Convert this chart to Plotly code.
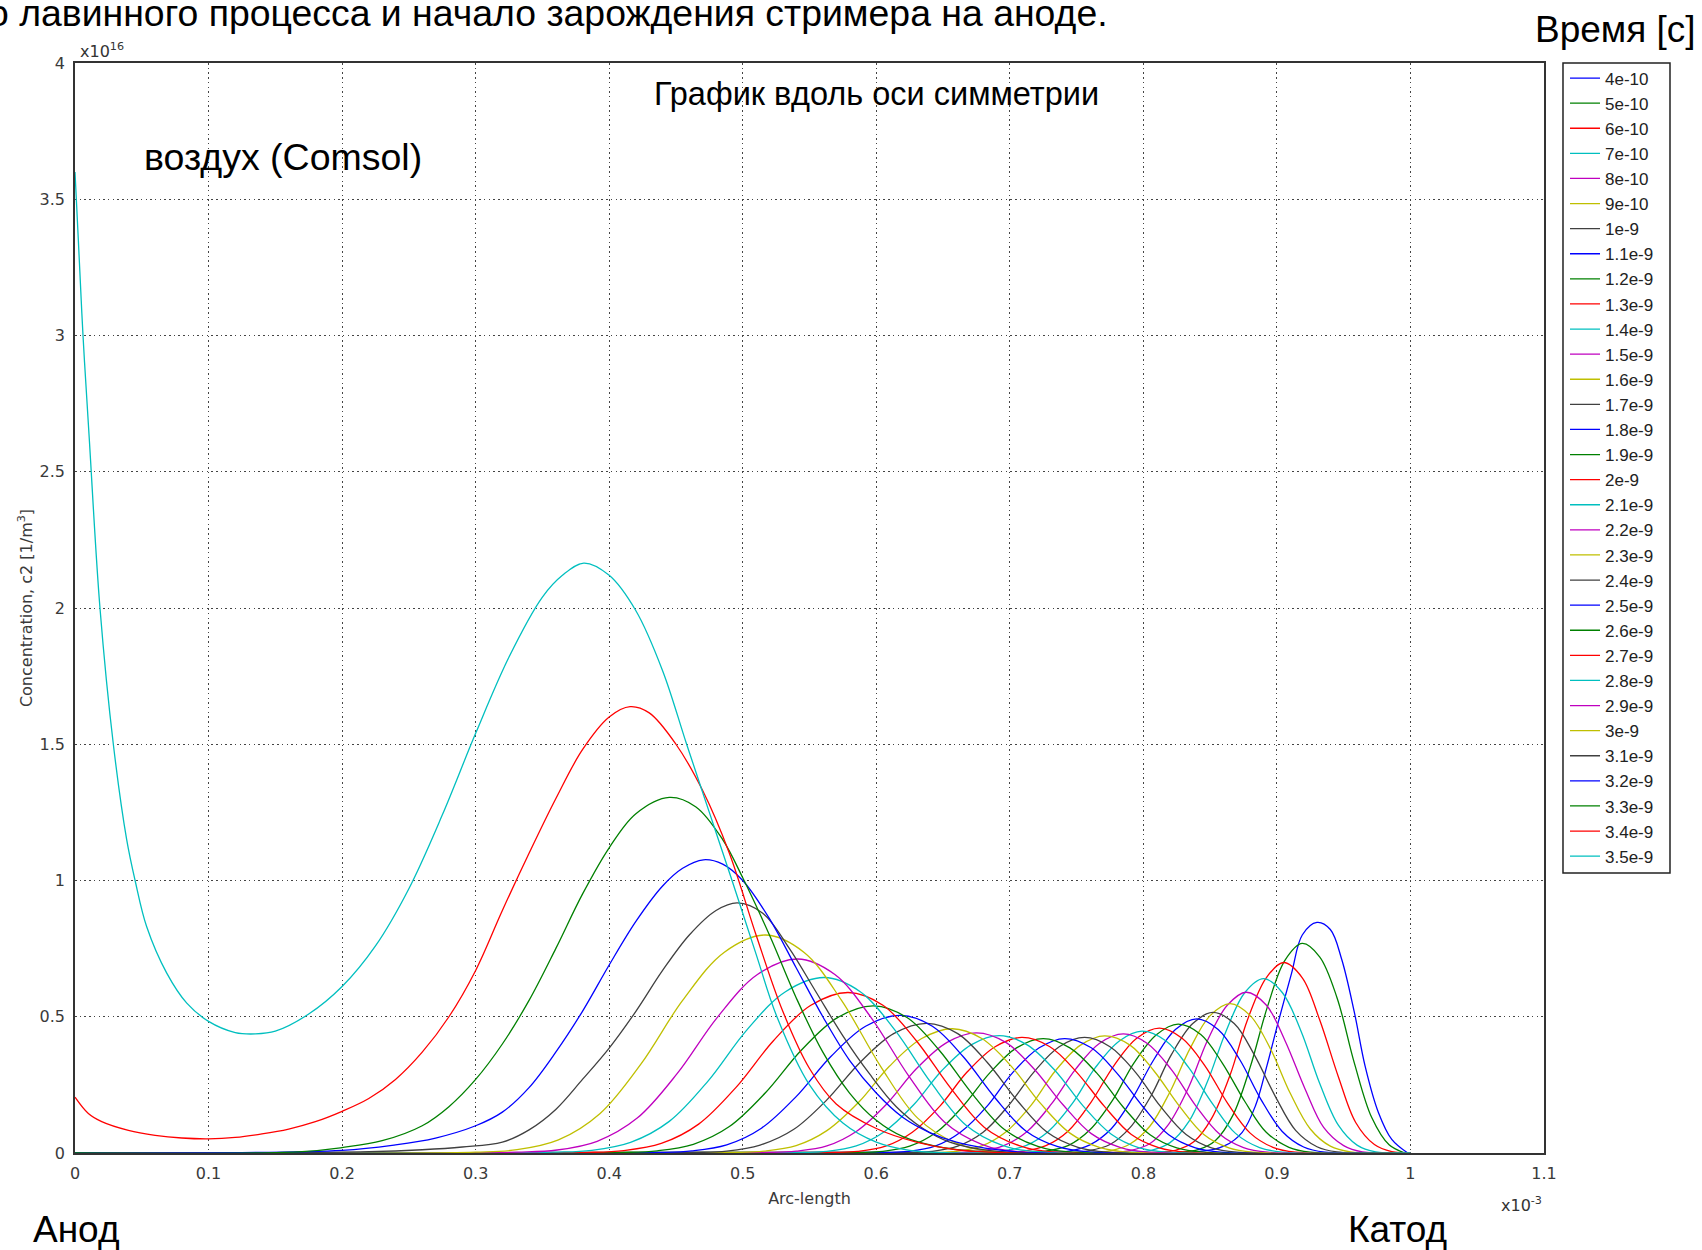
import plotly.graph_objects as go

# time labels (legend) and curve colours (COMSOL default cycle)
TIME_LABELS = ["4e-10", "5e-10", "6e-10", "7e-10", "8e-10", "9e-10", "1e-9",
               "1.1e-9", "1.2e-9", "1.3e-9", "1.4e-9", "1.5e-9", "1.6e-9", "1.7e-9",
               "1.8e-9", "1.9e-9", "2e-9", "2.1e-9", "2.2e-9", "2.3e-9", "2.4e-9",
               "2.5e-9", "2.6e-9", "2.7e-9", "2.8e-9", "2.9e-9", "3e-9", "3.1e-9",
               "3.2e-9", "3.3e-9", "3.4e-9", "3.5e-9"]
COLOR_CYCLE = ["#0000ff", "#008000", "#ff0000", "#00bfbf", "#bf00bf", "#bfbf00", "#404040"]

# arc-length in units of 1e-3 m, concentration in units of 1e16 1/m^3
CURVE_X = [
    [0, 0.84, 0.861, 0.874, 0.884, 0.8925, 0.901, 0.911, 0.919, 0.930, 0.94, 0.9485, 0.958, 0.966, 0.976, 0.986, 0.998],
    [0, 0.828, 0.841, 0.854, 0.867, 0.880, 0.893, 0.906, 0.919, 0.932, 0.945, 0.958, 0.971, 0.984, 0.996],
    [0, 0.811, 0.824, 0.838, 0.851, 0.865, 0.878, 0.892, 0.905, 0.919, 0.932, 0.946, 0.959, 0.973, 0.986, 1.0],
    [0, 0.792, 0.806, 0.820, 0.834, 0.848, 0.862, 0.876, 0.890, 0.904, 0.918, 0.932, 0.946, 0.960, 0.974, 1.0],
    [0, 0.776, 0.790, 0.805, 0.819, 0.834, 0.848, 0.863, 0.877, 0.892, 0.906, 0.921, 0.935, 0.950, 0.964, 1.0],
    [0, 0.760, 0.775, 0.790, 0.805, 0.820, 0.835, 0.850, 0.865, 0.880, 0.895, 0.910, 0.925, 0.940, 0.955, 1.0],
    [0, 0.744, 0.759, 0.775, 0.790, 0.806, 0.821, 0.837, 0.852, 0.868, 0.883, 0.899, 0.914, 0.930, 0.945, 1.0],
    [0, 0.728, 0.744, 0.760, 0.776, 0.792, 0.808, 0.824, 0.840, 0.856, 0.872, 0.888, 0.904, 0.920, 0.936, 1.0],
    [0, 0.711, 0.727, 0.744, 0.760, 0.777, 0.793, 0.810, 0.826, 0.843, 0.859, 0.876, 0.892, 0.909, 0.925, 1.0],
    [0, 0.693, 0.710, 0.727, 0.744, 0.761, 0.778, 0.795, 0.812, 0.829, 0.846, 0.863, 0.880, 0.897, 0.914, 1.0],
    [0, 0.677, 0.694, 0.712, 0.729, 0.747, 0.764, 0.782, 0.799, 0.817, 0.834, 0.852, 0.869, 0.887, 0.904, 1.0],
    [0, 0.659, 0.677, 0.695, 0.713, 0.731, 0.749, 0.767, 0.785, 0.803, 0.821, 0.839, 0.857, 0.875, 0.893, 1.0],
    [0, 0.642, 0.660, 0.679, 0.697, 0.716, 0.734, 0.753, 0.771, 0.790, 0.808, 0.827, 0.845, 0.864, 0.882, 1.0],
    [0, 0.623, 0.642, 0.661, 0.680, 0.699, 0.718, 0.737, 0.756, 0.775, 0.794, 0.813, 0.832, 0.851, 0.870, 1.0],
    [0, 0.605, 0.624, 0.644, 0.663, 0.683, 0.702, 0.722, 0.741, 0.761, 0.780, 0.800, 0.819, 0.839, 0.858, 1.0],
    [0, 0.585, 0.605, 0.625, 0.645, 0.665, 0.685, 0.705, 0.725, 0.745, 0.765, 0.785, 0.805, 0.825, 0.845, 1.0],
    [0, 0.566, 0.586, 0.607, 0.627, 0.648, 0.668, 0.689, 0.709, 0.730, 0.750, 0.771, 0.791, 0.812, 0.832, 1.0],
    [0, 0.542, 0.563, 0.585, 0.606, 0.628, 0.649, 0.671, 0.692, 0.713, 0.734, 0.755, 0.776, 0.797, 0.818, 1.0],
    [0, 0.518, 0.540, 0.563, 0.585, 0.608, 0.630, 0.653, 0.675, 0.697, 0.718, 0.740, 0.761, 0.783, 0.804, 1.0],
    [0, 0.493, 0.516, 0.540, 0.563, 0.587, 0.610, 0.634, 0.657, 0.679, 0.701, 0.723, 0.745, 0.767, 0.789, 1.0],
    [0, 0.463, 0.488, 0.513, 0.538, 0.563, 0.588, 0.613, 0.638, 0.661, 0.683, 0.706, 0.728, 0.751, 0.773, 1.0],
    [0, 0.436, 0.462, 0.488, 0.514, 0.540, 0.566, 0.592, 0.618, 0.642, 0.665, 0.689, 0.712, 0.736, 0.759, 1.0],
    [0, 0.409, 0.436, 0.463, 0.490, 0.517, 0.544, 0.571, 0.598, 0.623, 0.647, 0.672, 0.696, 0.721, 0.745, 1.0],
    [0, 0.383, 0.411, 0.439, 0.467, 0.495, 0.523, 0.551, 0.579, 0.605, 0.630, 0.656, 0.681, 0.707, 0.732, 1.0],
    [0, 0.358, 0.387, 0.416, 0.445, 0.474, 0.503, 0.532, 0.561, 0.588, 0.614, 0.641, 0.667, 0.694, 0.720, 1.0],
    [0, 0.331, 0.361, 0.391, 0.421, 0.451, 0.481, 0.511, 0.541, 0.569, 0.596, 0.624, 0.651, 0.679, 0.706, 1.0],
    [0, 0.300, 0.331, 0.362, 0.393, 0.424, 0.455, 0.486, 0.517, 0.546, 0.574, 0.603, 0.631, 0.660, 0.688, 1.0],
    [0, 0.22, 0.26, 0.29, 0.32, 0.34, 0.36, 0.38, 0.40, 0.42, 0.44, 0.46, 0.48, 0.496, 0.515, 0.535, 0.555,
     0.575, 0.595, 0.615, 0.635, 0.655, 0.68, 0.71, 1.0],
    [0, 0.20, 0.24, 0.27, 0.30, 0.32, 0.34, 0.36, 0.38, 0.40, 0.42, 0.44, 0.455, 0.4706, 0.485, 0.50, 0.52,
     0.54, 0.56, 0.58, 0.60, 0.62, 0.64, 0.66, 0.69, 0.72, 1.0],
    [0, 0.17, 0.20, 0.23, 0.26, 0.28, 0.30, 0.32, 0.34, 0.36, 0.38, 0.40, 0.42, 0.445, 0.465, 0.485, 0.50,
     0.52, 0.54, 0.56, 0.58, 0.60, 0.62, 0.65, 0.70, 1.0],
    [0, 0.01, 0.02, 0.04, 0.06, 0.08, 0.10, 0.12, 0.14, 0.16, 0.18, 0.20, 0.22, 0.24, 0.26, 0.28, 0.30, 0.32,
     0.34, 0.36, 0.38, 0.40, 0.4157, 0.43, 0.45, 0.47, 0.49, 0.51, 0.53, 0.55, 0.57, 0.60, 0.63, 0.66, 0.70, 1.0],
    [0, 0.0025, 0.006, 0.0107, 0.0187, 0.0287, 0.0387, 0.045, 0.0537, 0.0687, 0.0837, 0.10, 0.12, 0.135,
     0.15, 0.175, 0.20, 0.225, 0.25, 0.275, 0.30, 0.325, 0.35, 0.365, 0.381, 0.40, 0.42, 0.44, 0.458,
     0.475, 0.492, 0.51, 0.5256, 0.55, 0.575, 0.60, 0.625, 0.66, 1.0],
]
CURVE_Y = [
    [0, 0.005, 0.027, 0.076, 0.174, 0.32, 0.48, 0.66, 0.80, 0.846, 0.82, 0.711, 0.516, 0.32, 0.149, 0.05, 0],
    [0, 0.003, 0.012, 0.046, 0.138, 0.315, 0.538, 0.707, 0.769, 0.72, 0.57, 0.33, 0.13, 0.03, 0],
    [0, 0.003, 0.010, 0.042, 0.126, 0.287, 0.489, 0.643, 0.699, 0.643, 0.489, 0.280, 0.112, 0.031, 0.005, 0],
    [0, 0.003, 0.010, 0.038, 0.115, 0.262, 0.448, 0.589, 0.640, 0.589, 0.448, 0.256, 0.102, 0.029, 0.004, 0],
    [0, 0.002, 0.009, 0.035, 0.106, 0.242, 0.413, 0.543, 0.590, 0.543, 0.413, 0.236, 0.094, 0.027, 0.004, 0],
    [0, 0.002, 0.008, 0.033, 0.099, 0.225, 0.384, 0.504, 0.548, 0.504, 0.384, 0.219, 0.088, 0.025, 0.004, 0],
    [0, 0.002, 0.008, 0.031, 0.093, 0.212, 0.361, 0.475, 0.516, 0.475, 0.361, 0.206, 0.083, 0.023, 0.004, 0],
    [0, 0.002, 0.007, 0.030, 0.089, 0.202, 0.344, 0.453, 0.492, 0.453, 0.344, 0.197, 0.079, 0.022, 0.003, 0],
    [0, 0.002, 0.007, 0.028, 0.085, 0.194, 0.331, 0.435, 0.473, 0.435, 0.331, 0.189, 0.076, 0.021, 0.003, 0],
    [0, 0.002, 0.007, 0.027, 0.082, 0.188, 0.321, 0.421, 0.458, 0.421, 0.321, 0.183, 0.073, 0.021, 0.003, 0],
    [0, 0.002, 0.007, 0.027, 0.080, 0.183, 0.313, 0.411, 0.447, 0.411, 0.313, 0.179, 0.072, 0.020, 0.003, 0],
    [0, 0.002, 0.007, 0.026, 0.079, 0.179, 0.306, 0.402, 0.437, 0.402, 0.306, 0.175, 0.070, 0.020, 0.003, 0],
    [0, 0.002, 0.006, 0.026, 0.077, 0.176, 0.301, 0.396, 0.430, 0.396, 0.301, 0.172, 0.069, 0.019, 0.003, 0],
    [0, 0.002, 0.006, 0.025, 0.076, 0.174, 0.297, 0.390, 0.424, 0.390, 0.297, 0.170, 0.068, 0.019, 0.003, 0],
    [0, 0.002, 0.006, 0.025, 0.076, 0.172, 0.294, 0.386, 0.420, 0.386, 0.294, 0.168, 0.067, 0.019, 0.003, 0],
    [0, 0.002, 0.006, 0.025, 0.076, 0.172, 0.294, 0.386, 0.420, 0.386, 0.294, 0.168, 0.067, 0.019, 0.003, 0],
    [0, 0.002, 0.006, 0.025, 0.076, 0.174, 0.297, 0.390, 0.424, 0.390, 0.297, 0.170, 0.068, 0.019, 0.003, 0],
    [0, 0.002, 0.006, 0.026, 0.078, 0.177, 0.302, 0.397, 0.431, 0.397, 0.302, 0.172, 0.069, 0.019, 0.003, 0],
    [0, 0.002, 0.007, 0.026, 0.079, 0.181, 0.309, 0.406, 0.441, 0.406, 0.309, 0.176, 0.071, 0.020, 0.003, 0],
    [0, 0.002, 0.007, 0.027, 0.082, 0.187, 0.319, 0.420, 0.456, 0.420, 0.319, 0.182, 0.073, 0.021, 0.003, 0],
    [0, 0.002, 0.007, 0.029, 0.086, 0.195, 0.333, 0.438, 0.476, 0.438, 0.333, 0.190, 0.076, 0.021, 0.003, 0],
    [0, 0.002, 0.008, 0.030, 0.091, 0.207, 0.354, 0.465, 0.505, 0.465, 0.354, 0.202, 0.081, 0.023, 0.004, 0],
    [0, 0.002, 0.008, 0.032, 0.097, 0.221, 0.378, 0.497, 0.540, 0.497, 0.378, 0.216, 0.086, 0.024, 0.004, 0],
    [0, 0.002, 0.009, 0.035, 0.106, 0.241, 0.412, 0.542, 0.589, 0.542, 0.412, 0.236, 0.094, 0.027, 0.004, 0],
    [0, 0.003, 0.010, 0.039, 0.116, 0.264, 0.451, 0.592, 0.644, 0.592, 0.451, 0.258, 0.103, 0.029, 0.005, 0],
    [0, 0.003, 0.011, 0.043, 0.128, 0.292, 0.498, 0.655, 0.712, 0.655, 0.498, 0.285, 0.114, 0.032, 0.005, 0],
    [0, 0.003, 0.012, 0.048, 0.144, 0.328, 0.560, 0.736, 0.800, 0.736, 0.560, 0.320, 0.128, 0.036, 0.006, 0],
    [0, 0.005, 0.012, 0.022, 0.04, 0.085, 0.16, 0.27, 0.385, 0.52, 0.67, 0.80, 0.89, 0.918, 0.88, 0.75, 0.59,
     0.43, 0.29, 0.17, 0.09, 0.04, 0.012, 0, 0],
    [0, 0.01, 0.03, 0.055, 0.10, 0.15, 0.24, 0.37, 0.52, 0.69, 0.85, 0.98, 1.045, 1.076, 1.06, 1.0, 0.86,
     0.68, 0.50, 0.34, 0.22, 0.13, 0.075, 0.04, 0.012, 0, 0],
    [0, 0.005, 0.02, 0.045, 0.10, 0.17, 0.27, 0.40, 0.56, 0.75, 0.95, 1.12, 1.245, 1.305, 1.27, 1.15, 1.01,
     0.80, 0.57, 0.37, 0.22, 0.12, 0.06, 0.02, 0, 0],
    [0.205, 0.145, 0.115, 0.083, 0.065, 0.055, 0.052, 0.057, 0.07, 0.088, 0.115, 0.153, 0.20, 0.27, 0.37,
     0.50, 0.67, 0.89, 1.10, 1.30, 1.48, 1.60, 1.638, 1.615, 1.50, 1.33, 1.10, 0.80, 0.52, 0.31, 0.18,
     0.09, 0.04, 0.012, 0, 0],
    [3.6, 3.35, 3.0, 2.62, 2.0, 1.5, 1.15, 1.0, 0.83, 0.66, 0.55, 0.483, 0.442, 0.437, 0.447, 0.51, 0.611,
     0.76, 0.97, 1.24, 1.54, 1.82, 2.04, 2.12, 2.165, 2.12, 1.99, 1.77, 1.5, 1.25, 1.0, 0.73, 0.5, 0.25,
     0.11, 0.04, 0.01, 0, 0],
]

X_TICKS = [0, 0.1, 0.2, 0.3, 0.4, 0.5, 0.6, 0.7, 0.8, 0.9, 1.0, 1.1]
X_TICK_TEXT = ["0", "0.1", "0.2", "0.3", "0.4", "0.5", "0.6", "0.7", "0.8", "0.9", "1", "1.1"]
Y_TICKS = [0, 0.5, 1, 1.5, 2, 2.5, 3, 3.5, 4]
Y_TICK_TEXT = ["0", "0.5", "1", "1.5", "2", "2.5", "3", "3.5", "4"]

fig = go.Figure()
for i, label in enumerate(TIME_LABELS):
    fig.add_trace(go.Scatter(
        x=CURVE_X[i], y=CURVE_Y[i], mode="lines", name=label,
        line=dict(color=COLOR_CYCLE[i % len(COLOR_CYCLE)], width=1.3, shape="spline", smoothing=1.0),
    ))

axis_font = dict(family="DejaVu Sans", size=16, color="#3a3a3a")
grid_dash = "1.5px,3.2px"
fig.update_layout(
    width=1702, height=1250,
    margin=dict(l=75, r=158, t=63, b=97),
    paper_bgcolor="white", plot_bgcolor="white",
    showlegend=True,
    legend=dict(x=1.0143, y=0.2555, xanchor="left", yanchor="bottom",
                bgcolor="rgba(0,0,0,0)", borderwidth=0,
                font=dict(family="Liberation Sans", size=17, color="#222222"),
                tracegroupgap=0, itemwidth=30),
    xaxis=dict(range=[0, 1.1], tickvals=X_TICKS, ticktext=X_TICK_TEXT,
               showgrid=True, gridcolor="#444444", griddash=grid_dash, gridwidth=1,
               showline=True, linecolor="#333333", linewidth=1.5, mirror=True,
               zeroline=False, ticks="", tickfont=axis_font, ticklabelstandoff=5,
               title=dict(text="Arc-length", font=axis_font, standoff=11)),
    yaxis=dict(range=[0, 4], tickvals=Y_TICKS, ticktext=Y_TICK_TEXT,
               showgrid=True, gridcolor="#444444", griddash=grid_dash, gridwidth=1,
               showline=True, linecolor="#333333", linewidth=1.5, mirror=True,
               zeroline=False, ticks="", tickfont=axis_font, ticklabelstandoff=5,
               title=dict(text="Concentration, c2 [1/m<sup>3</sup>]", font=axis_font, standoff=3)),
)

# legend frame
fig.add_shape(type="rect", xref="paper", yref="paper", x0=1.01293, x1=1.08577, y0=0.25688, y1=1.0,
              line=dict(color="#222222", width=1.5), fillcolor="rgba(0,0,0,0)", layer="above")

big = dict(family="Liberation Sans", size=37, color="black")
ann = [
    dict(text="о лавинного процесса и начало зарождения стримера на аноде.", x=0.7049, y=1.0459,
         xanchor="right", yanchor="middle", font=dict(family="Liberation Sans", size=37.4, color="black")),
    dict(text="Время [с]", x=1.1048, y=1.0303, xanchor="right", yanchor="middle", font=big),
    dict(text="График вдоль оси симметрии", x=0.5453, y=0.9716, xanchor="center", yanchor="middle",
         font=dict(family="Liberation Sans", size=32.5, color="black")),
    dict(text="воздух (Comsol)", x=0.1419, y=0.9138, xanchor="center", yanchor="middle",
         font=dict(family="Liberation Sans", size=37.5, color="black")),
    dict(text="Анод", x=0.0007, y=-0.0705, xanchor="center", yanchor="middle", font=big),
    dict(text="Катод", x=0.9006, y=-0.0705, xanchor="center", yanchor="middle", font=big),
    dict(text="x10<sup>16</sup>", x=0.002, y=1.0, xanchor="left", yanchor="bottom",
         font=dict(family="DejaVu Sans", size=16, color="#333333")),
    dict(text="x10<sup>-3</sup>", x=1.0, y=-0.0477, xanchor="right", yanchor="middle",
         font=dict(family="DejaVu Sans", size=16, color="#333333")),
]
for a in ann:
    fig.add_annotation(xref="paper", yref="paper", showarrow=False, **a)

fig.write_html("out.html")
